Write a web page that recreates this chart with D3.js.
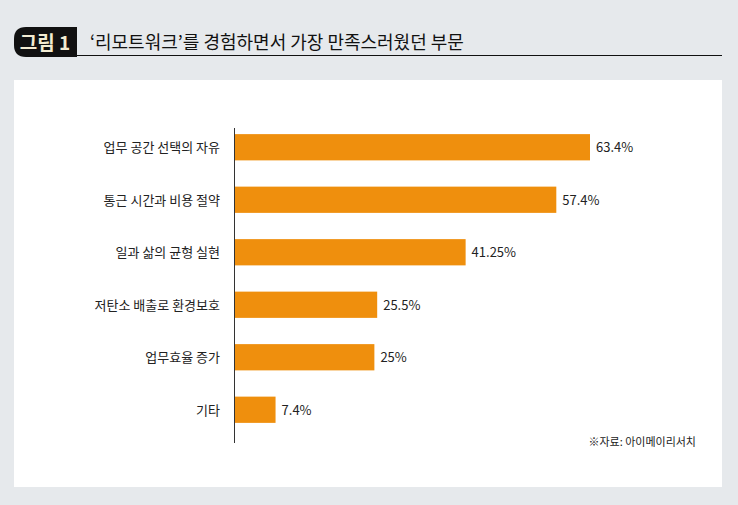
<!DOCTYPE html>
<html><head><meta charset="utf-8">
<script src="https://cdn.jsdelivr.net/npm/d3@7"></script>
<style>body{margin:0;background:#e6e9ec;}svg{display:block;font-family:"Noto Sans CJK KR","Noto Sans",sans-serif;}</style>
</head><body><svg id="c" width="738" height="505"></svg>
<script>
const categories=["업무 공간 선택의 자유","통근 시간과 비용 절약","일과 삶의 균형 실현","저탄소 배출로 환경보호","업무효율 증가","기타"];
const values=[63.4,57.4,41.25,25.5,25,7.4];
const valueLabels=["63.4%","57.4%","41.25%","25.5%","25%","7.4%"];
const svg=d3.select("#c");
svg.append("rect").attr("width",738).attr("height",505).attr("fill","#e6e9ec");
svg.append("path").attr("d","M26,27 H77 V57 H26 Q14,57 14,45 V39 Q14,27 26,27 Z").attr("fill","#111");
svg.append("text").attr("x",45).attr("y",50).attr("text-anchor","middle").attr("font-size",19).attr("font-weight","bold").attr("fill","#f3ecd2").text("그림 1");
svg.append("line").attr("x1",77).attr("x2",722).attr("y1",55.5).attr("y2",55.5).attr("stroke","#111").attr("stroke-width",1.2);
svg.append("text").attr("x",90).attr("y",49).attr("font-size",18).attr("fill","#111").text("‘리모트워크’를 경험하면서 가장 만족스러웠던 부문");
svg.append("rect").attr("x",14).attr("y",80).attr("width",708).attr("height",407).attr("fill","#fff");
const x=d3.scaleLinear().domain([0,63.4]).range([234,590]);
const y=d3.scaleBand().domain(categories).range([121,436]).paddingInner(0.5).paddingOuter(0.25);
svg.append("line").attr("x1",234.5).attr("x2",234.5).attr("y1",128).attr("y2",443).attr("stroke","#333").attr("stroke-width",1);
svg.selectAll(".bar").data(values).join("rect").attr("x",x(0)+1).attr("y",(d,i)=>y(categories[i])).attr("height",y.bandwidth()).attr("width",d=>x(d)-x(0)-1).attr("fill","#ef8f0d");
svg.selectAll(".cat").data(categories).join("text").attr("x",220).attr("y",d=>y(d)+y.bandwidth()/2+5).attr("text-anchor","end").attr("font-size",13).attr("fill","#222").text(d=>d);
svg.selectAll(".val").data(values).join("text").attr("x",d=>x(d)+6).attr("y",(d,i)=>y(categories[i])+y.bandwidth()/2+5).attr("font-size",13).attr("fill","#222").text((d,i)=>valueLabels[i]);
svg.append("text").attr("x",696).attr("y",446).attr("text-anchor","end").attr("font-size",11).attr("fill","#222").text("※자료: 아이메이리서치");
</script></body></html>
